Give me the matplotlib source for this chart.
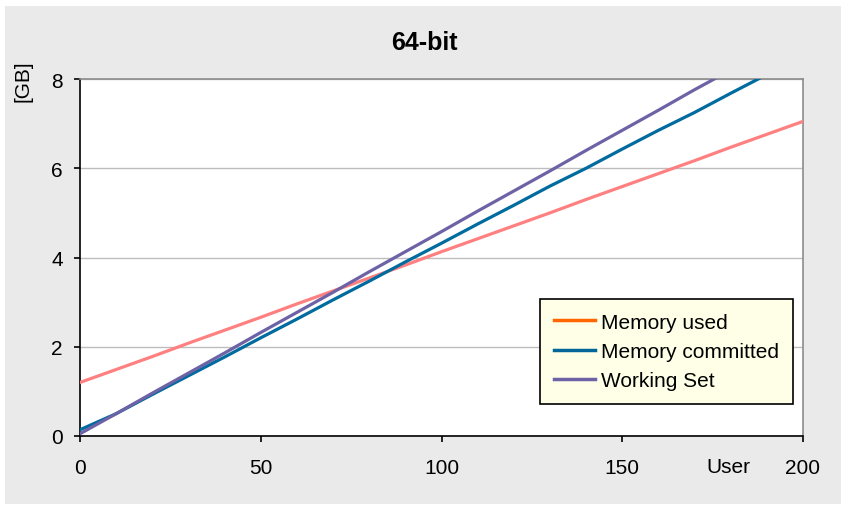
import matplotlib
matplotlib.use("Agg")
import matplotlib.pyplot as plt
from matplotlib.lines import Line2D
from matplotlib.patches import Rectangle

# values, in GB, against number of users
users = [0, 10, 20, 30, 40, 50, 60, 70, 80, 90, 100, 110, 120, 130, 140, 150, 160, 170, 180, 190, 200]
mem_used = [1.20, 1.49, 1.78, 2.08, 2.37, 2.66, 2.96, 3.25, 3.54, 3.83, 4.13,
            4.42, 4.71, 5.00, 5.30, 5.59, 5.88, 6.17, 6.47, 6.76, 7.05]
mem_committed = [0.14, 0.50, 0.93, 1.35, 1.77, 2.20, 2.62, 3.05, 3.47, 3.90, 4.32,
                 4.75, 5.17, 5.60, 6.00, 6.43, 6.85, 7.25, 7.68, 8.10, 8.50]
working_set = [0.05, 0.50, 0.96, 1.41, 1.86, 2.32, 2.77, 3.22, 3.68, 4.13, 4.58,
               5.04, 5.49, 5.94, 6.40, 6.85, 7.30, 7.76, 8.20, 8.65, 9.10]

x_ticks = [0, 50, 100, 150, 200]
y_ticks = [0, 2, 4, 6, 8]

plt.rcParams['font.family'] = ['Liberation Sans', 'DejaVu Sans']

fig = plt.figure(figsize=(8.41, 5.10), dpi=100)
fig.patch.set_facecolor('white')
fig.patches.append(Rectangle((5 / 841, 0.01), 1 - 5 / 841, 1 - 7 / 510 - 0.01,
                             transform=fig.transFigure, facecolor='#EAEAEA',
                             edgecolor='none', zorder=-10))

ax = fig.add_axes([80 / 841, 73 / 510, 723 / 841, 357 / 510])
ax.set_facecolor('white')

ax.plot(users, mem_used, color='#FF8080', lw=2.3, zorder=3)
ax.plot(users, mem_committed, color='#006B9E', lw=2.3, zorder=3)
ax.plot(users, working_set, color='#6E62A6', lw=2.3, zorder=4)

ax.set_xlim(0, 200)
ax.set_ylim(0, 8)
ax.set_xticks(x_ticks)
ax.set_yticks(y_ticks)
ax.grid(axis='y', color='#BDBDBD', lw=1)
ax.set_axisbelow(True)

for s in ['top', 'right']:
    ax.spines[s].set_color('#8C8C8C')
    ax.spines[s].set_linewidth(1.2)
for s in ['left', 'bottom']:
    ax.spines[s].set_color('black')
    ax.spines[s].set_linewidth(1.2)

ax.tick_params(axis='both', direction='out', length=4.5, width=1.2, color='black',
               labelsize=15)
ax.tick_params(axis='x', pad=11)
ax.tick_params(axis='y', pad=8)

ax.text((728 - 80) / 723, (437 - 468) / 357, 'User', transform=ax.transAxes,
        fontsize=15, ha='center', va='center')
fig.text(23 / 841, 1 - 60 / 510, '[GB]', rotation=90, ha='center', va='top', fontsize=15)
fig.text(424 / 841, 1 - 43 / 510, '64-bit', fontweight='bold', fontsize=18,
         ha='center', va='center')

handles = [Line2D([], [], color='#FF6600', lw=2.5),
           Line2D([], [], color='#006699', lw=2.5),
           Line2D([], [], color='#6E62A6', lw=2.5)]
leg = ax.legend(handles, ['Memory used', 'Memory committed', 'Working Set'],
                loc='lower right', bbox_to_anchor=((793 - 80) / 723, (437 - 405) / 357),
                fontsize=15, fancybox=False, framealpha=1, facecolor='#FFFFE8',
                edgecolor='black', handlelength=2.0, handletextpad=0.3,
                labelspacing=0.5, borderpad=0.65, borderaxespad=0)
leg.get_frame().set_linewidth(1.2)

fig.savefig('out.png', dpi=100)
